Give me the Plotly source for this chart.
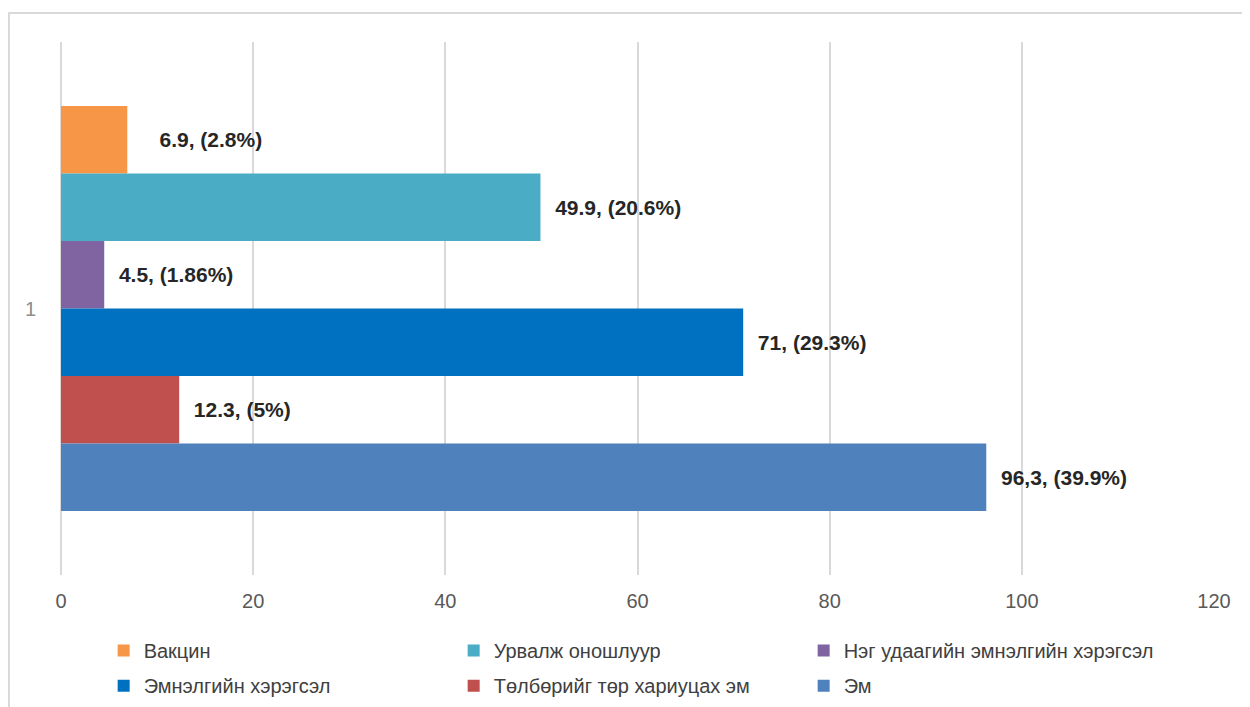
import plotly.graph_objects as go

category = ["1"]
series_names = [
    "Вакцин",
    "Урвалж оношлуур",
    "Нэг удаагийн эмнэлгийн хэрэгсэл",
    "Эмнэлгийн хэрэгсэл",
    "Төлбөрийг төр хариуцах эм",
    "Эм",
]
series_values = [6.9, 49.9, 4.5, 71, 12.3, 96.3]
series_labels = [
    "6.9, (2.8%)",
    "49.9, (20.6%)",
    "4.5, (1.86%)",
    "71, (29.3%)",
    "12.3, (5%)",
    "96,3, (39.9%)",
]
x_ticks = [0, 20, 40, 60, 80, 100, 120]

colors = ["#F79646", "#4BACC6", "#8064A2", "#0070C0", "#C0504D", "#4F81BD"]

fig = go.Figure()
for i, (name, val, lab, col) in enumerate(zip(series_names, series_values, series_labels, colors)):
    # the first label sits a bit further out (Excel leader-line offset)
    pad = "     " if i == 0 else "  "
    fig.add_trace(go.Bar(
        y=category,
        x=[val],
        name=name,
        orientation="h",
        marker=dict(color=col, line=dict(width=0)),
        text=[pad + lab],
        textposition="outside",
        textfont=dict(family="Liberation Sans, Arial", size=21, color="#262626", weight="bold"),
        cliponaxis=False,
        legend="legend" if i < 3 else "legend2",
    ))

legend_common = dict(
    orientation="h",
    x=0.037,
    xanchor="left",
    yanchor="top",
    entrywidth=305,
    entrywidthmode="pixels",
    traceorder="normal",
    font=dict(size=20, color="#404040"),
    itemclick=False,
    bgcolor="rgba(0,0,0,0)",
)

fig.update_layout(
    width=1250,
    height=707,
    paper_bgcolor="white",
    plot_bgcolor="white",
    barmode="group",
    bargap=0.24,
    bargroupgap=0,
    margin=dict(l=53, r=44, t=34, b=140, autoexpand=False),
    font=dict(family="Liberation Sans, Arial", size=20, color="#595959"),
    showlegend=True,
    legend=dict(legend_common, y=-0.105),
    legend2=dict(legend_common, y=-0.171),
    xaxis=dict(
        range=[0, 120],
        tickvals=x_ticks,
        showgrid=True,
        gridcolor="#D9D9D9",
        gridwidth=2,
        zeroline=True,
        zerolinecolor="#D9D9D9",
        zerolinewidth=2,
        showline=False,
        ticks="outside",
        ticklen=8,
        tickcolor="rgba(0,0,0,0)",
        tickfont=dict(size=20, color="#595959"),
        fixedrange=True,
        automargin=False,
    ),
    yaxis=dict(
        autorange="reversed",
        showgrid=False,
        showline=False,
        ticks="outside",
        ticklen=20,
        tickcolor="rgba(0,0,0,0)",
        tickfont=dict(size=20, color="#8C8C8C"),
        fixedrange=True,
        automargin=False,
    ),
    shapes=[dict(
        type="rect",
        xref="paper",
        yref="paper",
        x0=(1 - 53) / 1153,
        x1=1.1,
        y0=-0.4,
        y1=1 + (34 - 5) / 533,
        line=dict(color="#D9D9D9", width=2),
        fillcolor="rgba(0,0,0,0)",
        layer="below",
    )],
)

fig.write_html("out.html", config=dict(displayModeBar=False))
